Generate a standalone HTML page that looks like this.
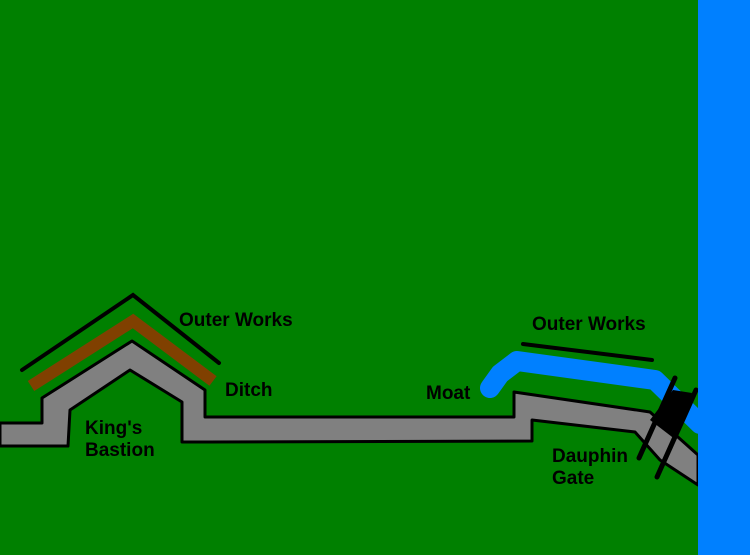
<!DOCTYPE html>
<html><head><style>body{margin:0}svg{display:block}text{font-family:"Liberation Sans",sans-serif;font-weight:bold;font-size:19px;fill:#000}</style></head>
<body><svg width="750" height="555" xmlns="http://www.w3.org/2000/svg">
<rect width="750" height="555" fill="#008000"/>
<polyline points="22,370 133,295 219,363" fill="none" stroke="#000" stroke-width="4" stroke-linecap="round"/>
<polyline points="31,386 133,321 213,381" fill="none" stroke="#804000" stroke-width="12"/>
<polyline points="490,388 500,374 517,361 655,380 700,424" fill="none" stroke="#0080ff" stroke-width="20" stroke-linecap="round" stroke-linejoin="round"/>
<line x1="523" y1="344" x2="652" y2="360" stroke="#000" stroke-width="4" stroke-linecap="round"/>
<polygon points="0,423 42,423 42,398 132,341 205,390 205,417 514,417 514,392 650,412 698,455 698,485 660,460 635,432 532,420 532,441 208,442 182,442 182,402 130,370 70,410 68,446 0,446" fill="#808080" stroke="#000" stroke-width="3" stroke-linejoin="round"/>
<polygon points="673,390 692,393 676,440 650,420" fill="#000"/>
<line x1="675" y1="378" x2="639" y2="458" stroke="#000" stroke-width="5" stroke-linecap="round"/>
<line x1="696" y1="390" x2="657" y2="477" stroke="#000" stroke-width="5" stroke-linecap="round"/>
<rect x="698" y="0" width="52" height="555" fill="#0080ff"/>
<text x="179" y="326">Outer Works</text>
<text x="225" y="396">Ditch</text>
<text x="85" y="434">King's</text>
<text x="85" y="456">Bastion</text>
<text x="426" y="399">Moat</text>
<text x="532" y="330">Outer Works</text>
<text x="552" y="462">Dauphin</text>
<text x="552" y="484">Gate</text>
</svg></body></html>
